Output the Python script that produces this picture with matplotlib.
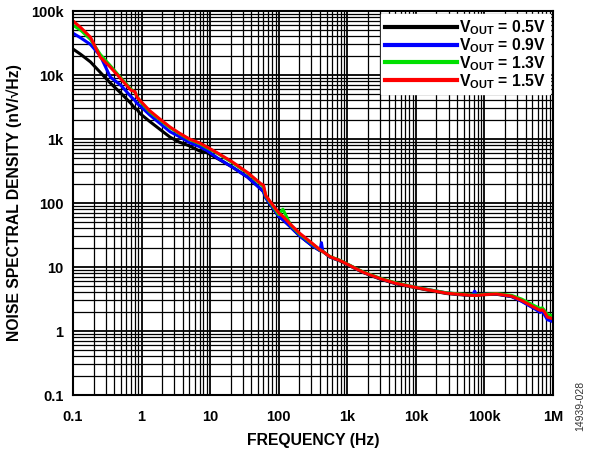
import matplotlib
matplotlib.use("Agg")
import matplotlib.pyplot as plt
from matplotlib.ticker import LogLocator, NullFormatter

plt.rcParams['font.family'] = ['Liberation Sans', 'DejaVu Sans']
plt.rcParams['font.weight'] = 'bold'
plt.rcParams['mathtext.fontset'] = 'custom'
plt.rcParams['mathtext.rm'] = 'Liberation Sans:bold'
plt.rcParams['mathtext.bf'] = 'Liberation Sans:bold'

# frequency points (Hz), shared by all traces
freq = [0.1, 0.13, 0.18, 0.25, 0.35, 0.5, 0.7, 0.8, 0.86, 0.95, 1.3, 1.8, 2.6, 3.5,
        5, 7, 9, 13, 21, 35, 55, 60, 65, 100, 115, 150, 200, 300, 400, 420, 440,
        560, 800, 1200, 1700, 3000, 5000, 9000, 15000, 28000, 50000, 68000, 72000,
        76000, 100000, 150000, 250000, 350000, 460000, 550000, 650000, 700000,
        750000, 830000, 1000000]

# noise density, nV/rtHz
v_050 = [25500, 21000, 16000, 11000, 7500, 5200, 3600, 3000, 2900, 2500, 1900, 1450,
         1070, 900, 780, 650, 610, 490, 365, 255, 165, 150, 120, 62, 55, 42, 31, 22,
         18, 18, 17.5, 14.3, 12.3, 9.9, 8.2, 6.5, 5.5, 4.85, 4.35, 3.85, 3.65, 3.6,
         3.6, 3.6, 3.7, 3.75, 3.45, 2.95, 2.5, 2.25, 2.05, 2.1, 1.9, 1.6, 1.5]
v_090 = [45000, 38000, 30000, 20000, 9300, 6900, 4600, 4000, 3600, 3300, 2400, 1800,
         1300, 1100, 880, 760, 660, 500, 365, 255, 165, 150, 120, 62, 55, 42, 31, 22,
         18, 24, 17.5, 14.3, 12.5, 10, 8.3, 6.6, 5.6, 4.95, 4.45, 3.95, 3.7, 3.7,
         4.2, 3.7, 3.75, 3.8, 3.45, 2.9, 2.45, 2.2, 1.95, 2.05, 1.8, 1.5, 1.4]
v_130 = [60000, 50000, 36000, 21000, 14000, 9000, 6000, 5400, 4600, 3900, 2700, 2050,
         1500, 1230, 980, 850, 730, 590, 430, 295, 195, 180, 128, 66, 80, 45, 33, 23.5,
         18.5, 18, 17.5, 14.6, 12.6, 10.1, 8.4, 6.7, 5.7, 4.95, 4.45, 3.95, 3.75, 3.65,
         3.65, 3.65, 3.75, 3.85, 3.6, 3.15, 2.7, 2.45, 2.25, 2.3, 2.1, 1.8, 1.75]
v_150 = [70000, 55000, 39000, 19000, 13300, 8700, 5800, 5500, 4500, 4000, 2800, 2100,
         1540, 1250, 1000, 870, 750, 600, 440, 300, 200, 190, 130, 70, 62, 46, 34, 24,
         18.6, 18, 17.5, 14.5, 12.5, 10, 8.3, 6.6, 5.6, 4.9, 4.4, 3.9, 3.7, 3.6, 3.6,
         3.6, 3.7, 3.8, 3.5, 3.0, 2.55, 2.3, 2.1, 2.15, 2.0, 1.65, 1.55]

traces = [(v_050, 'black', '0.5V'), (v_090, '#0000ff', '0.9V'),
          (v_130, '#00e000', '1.3V'), (v_150, '#ff0000', '1.5V')]

fig = plt.figure(figsize=(5.91, 4.50), dpi=100)
ax = fig.add_axes([0.1235, 0.1222, 0.8122, 0.8533])

for vals, col, lab in traces:
    ax.plot(freq, vals, color=col, lw=2.2, label=r'V$_{\mathrm{OUT}}$ = ' + lab)

ax.set_xscale('log')
ax.set_yscale('log')
ax.set_xlim(0.1, 1e6)
ax.set_ylim(0.1, 1e5)

ax.xaxis.set_minor_locator(LogLocator(base=10, subs=range(2, 10), numticks=20))
ax.yaxis.set_minor_locator(LogLocator(base=10, subs=range(2, 10), numticks=20))
ax.xaxis.set_minor_formatter(NullFormatter())
ax.yaxis.set_minor_formatter(NullFormatter())

xt = [0.1, 1, 10, 100, 1e3, 1e4, 1e5, 1e6]
xl = ['0.1', '1', '10', '100', '1k', '10k', '100k', '1M']
yt = [0.1, 1, 10, 100, 1e3, 1e4, 1e5]
yl = ['0.1', '1', '10', '100', '1k', '10k', '100k']
ax.set_xticks(xt)
ax.set_xticklabels(xl)
ax.set_yticks(yt)
ax.set_yticklabels(yl)

ax.grid(which='major', color='black', lw=1.3)
ax.grid(which='minor', color='black', lw=0.9)
ax.set_axisbelow(True)
ax.tick_params(which='both', length=0, labelsize=10.5)
ax.tick_params(axis='x', pad=11)
ax.tick_params(axis='y', pad=7)
for s in ax.spines.values():
    s.set_linewidth(1.5)

ax.set_xlabel('FREQUENCY (Hz)', fontsize=11.3, fontweight='bold', labelpad=6)
ax.set_ylabel('NOISE SPECTRAL DENSITY (nV/√Hz)', fontsize=11.3, fontweight='bold', labelpad=6)

leg = ax.legend(loc='upper right', fontsize=11.3, frameon=True, fancybox=False,
                framealpha=1, edgecolor='white', handlelength=4.6, handletextpad=0.15,
                labelspacing=-0.05, borderpad=0.25, borderaxespad=0.2)
for h in leg.get_lines():
    h.set_linewidth(3)

fig.text(0.982, 0.098, '14939-028', rotation=90, fontsize=7.5, fontweight='normal',
         color='#333333', ha='center', va='center')

fig.savefig('out.png', dpi=100)
